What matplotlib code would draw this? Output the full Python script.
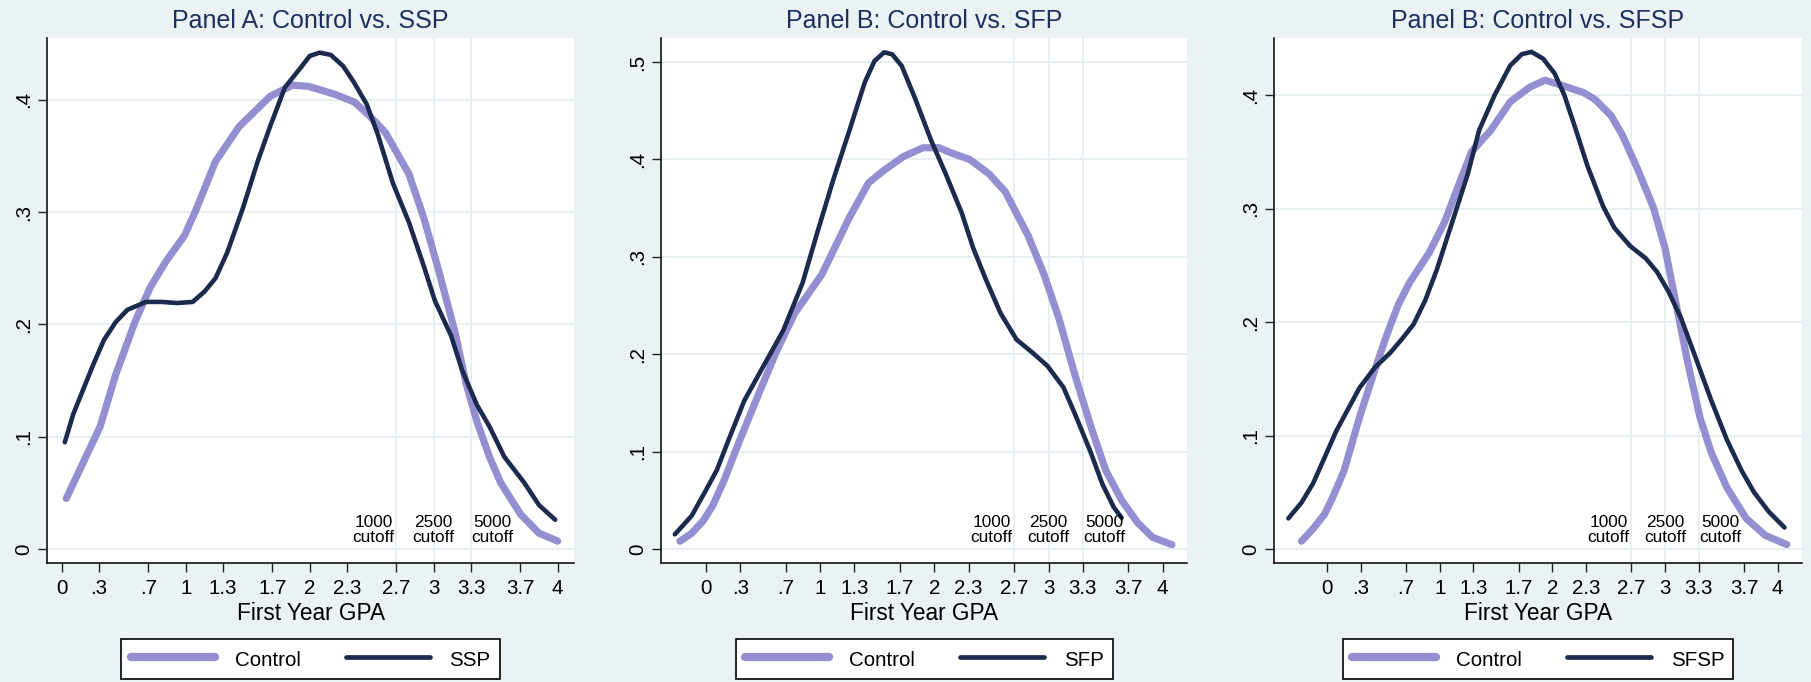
import matplotlib
matplotlib.use("Agg")
import matplotlib.pyplot as plt
from matplotlib.lines import Line2D

plt.rcParams['font.family'] = ['Liberation Sans', 'DejaVu Sans']

# ---------------- data ----------------
xtick_vals = [0, .3, .7, 1, 1.3, 1.7, 2, 2.3, 2.7, 3, 3.3, 3.7, 4]
xtick_labels = ["0", ".3", ".7", "1", "1.3", "1.7", "2", "2.3", "2.7", "3", "3.3", "3.7", "4"]
cutoffs = [2.7, 3.0, 3.3]
cutoff_labels = ["1000\ncutoff", "2500\ncutoff", "5000\ncutoff"]

titles = ["Panel A: Control vs. SSP", "Panel B: Control vs. SFP", "Panel B: Control vs. SFSP"]
treat_names = ["SSP", "SFP", "SFSP"]

# Panel A
ctrlA_x = [0.037, 0.31, 0.435, 0.59, 0.714, 0.84, 0.99, 1.087, 1.24, 1.43, 1.68, 1.86, 1.99, 2.2, 2.36, 2.48,
           2.61, 2.8, 2.92, 3.04, 3.17, 3.26, 3.35, 3.45, 3.54, 3.7, 3.85, 4.0]
ctrlA_y = [0.045, 0.109, 0.155, 0.202, 0.233, 0.256, 0.279, 0.303, 0.345, 0.376, 0.403, 0.413, 0.412, 0.405,
           0.398, 0.386, 0.371, 0.334, 0.295, 0.248, 0.194, 0.148, 0.113, 0.082, 0.059, 0.031, 0.014, 0.007]
trtA_x = [0.025, 0.093, 0.25, 0.34, 0.435, 0.53, 0.68, 0.81, 0.93, 1.056, 1.15, 1.24, 1.335, 1.46, 1.58, 1.68,
          1.8, 1.93, 2.0, 2.08, 2.17, 2.27, 2.36, 2.46, 2.55, 2.67, 2.8, 2.92, 3.01, 3.14, 3.23, 3.35, 3.45,
          3.57, 3.73, 3.85, 3.98]
trtA_y = [0.095, 0.12, 0.163, 0.186, 0.202, 0.213, 0.22, 0.22, 0.219, 0.22, 0.229, 0.241, 0.264, 0.303, 0.345,
          0.376, 0.411, 0.429, 0.439, 0.442, 0.44, 0.43, 0.415, 0.396, 0.369, 0.326, 0.291, 0.252, 0.221, 0.19,
          0.159, 0.128, 0.109, 0.082, 0.059, 0.039, 0.026]

# Panel B
ctrlB_x = [-0.228, -0.126, -0.024, 0.061, 0.164, 0.266, 0.436, 0.606, 0.777, 1.015, 1.254, 1.424, 1.56, 1.73,
           1.9, 2.04, 2.14, 2.31, 2.48, 2.62, 2.82, 2.96, 3.09, 3.23, 3.37, 3.5, 3.64, 3.78, 3.91, 4.08]
ctrlB_y = [0.008, 0.016, 0.029, 0.045, 0.072, 0.103, 0.152, 0.2, 0.242, 0.282, 0.34, 0.376, 0.389, 0.403,
           0.412, 0.412, 0.407, 0.4, 0.385, 0.367, 0.322, 0.282, 0.237, 0.179, 0.126, 0.081, 0.05, 0.027,
           0.012, 0.0045]
trtB_x = [-0.273, -0.126, -0.007, 0.095, 0.198, 0.334, 0.504, 0.675, 0.845, 0.98, 1.117, 1.254, 1.39, 1.475,
          1.56, 1.63, 1.714, 1.83, 1.97, 2.1, 2.24, 2.34, 2.45, 2.58, 2.72, 2.855, 2.99, 3.13, 3.23, 3.37,
          3.47, 3.57, 3.64]
trtB_y = [0.015, 0.034, 0.059, 0.081, 0.112, 0.152, 0.188, 0.224, 0.273, 0.327, 0.38, 0.429, 0.479, 0.501,
          0.51, 0.508, 0.496, 0.463, 0.42, 0.385, 0.345, 0.309, 0.277, 0.242, 0.215, 0.202, 0.188, 0.166,
          0.139, 0.099, 0.067, 0.043, 0.032]

# Panel C
ctrlC_x = [-0.226, -0.123, -0.02, 0.048, 0.151, 0.288, 0.425, 0.528, 0.631, 0.734, 0.906, 1.043, 1.146,
           1.283, 1.454, 1.626, 1.8, 1.935, 2.07, 2.28, 2.38, 2.52, 2.62, 2.76, 2.9, 3.0, 3.1, 3.2, 3.31,
           3.41, 3.55, 3.72, 3.89, 4.08]
ctrlC_y = [0.007, 0.018, 0.031, 0.045, 0.069, 0.116, 0.158, 0.188, 0.215, 0.235, 0.261, 0.288, 0.315,
           0.35, 0.369, 0.394, 0.407, 0.413, 0.409, 0.402, 0.396, 0.382, 0.365, 0.334, 0.3, 0.265, 0.215,
           0.165, 0.116, 0.085, 0.054, 0.027, 0.012, 0.004]
trtC_x = [-0.343, -0.226, -0.123, -0.02, 0.082, 0.185, 0.288, 0.425, 0.562, 0.665, 0.768, 0.871, 0.974,
          1.111, 1.248, 1.35, 1.488, 1.626, 1.729, 1.815, 1.918, 2.02, 2.106, 2.21, 2.31, 2.45, 2.55, 2.69,
          2.83, 2.93, 3.03, 3.14, 3.27, 3.41, 3.55, 3.68, 3.79, 3.92, 4.06]
trtC_y = [0.027, 0.041, 0.058, 0.081, 0.104, 0.123, 0.142, 0.16, 0.173, 0.185, 0.198, 0.219, 0.246, 0.288,
          0.33, 0.369, 0.4, 0.426, 0.436, 0.438, 0.432, 0.419, 0.4, 0.369, 0.338, 0.302, 0.283, 0.267, 0.256,
          0.244, 0.227, 0.204, 0.169, 0.131, 0.096, 0.069, 0.05, 0.033, 0.019]

yticksA = [0, .1, .2, .3, .4]
yticksB = [0, .1, .2, .3, .4, .5]
ytick_labelsA = ["0", ".1", ".2", ".3", ".4"]
ytick_labelsB = ["0", ".1", ".2", ".3", ".4", ".5"]

# ---------------- styling ----------------
W, H = 1811, 682
BG = '#eaf2f3'
GRID = '#e6eef1'
PURPLE = '#958fd1'
NAVY = '#1c2a4e'
TITLE_C = '#1e2f5e'

fig = plt.figure(figsize=(W / 100, H / 100), dpi=100, facecolor=BG)

panels = [
    dict(left=47, right=574.3, xlim=(-0.1185, 4.134), ylim=(-0.0125, 0.4553),
         cx=ctrlA_x, cy=ctrlA_y, tx=trtA_x, ty=trtA_y, yt=yticksA, ytl=ytick_labelsA),
    dict(left=661, right=1187.3, xlim=(-0.394, 4.215), ylim=(-0.0144, 0.525),
         cx=ctrlB_x, cy=ctrlB_y, tx=trtB_x, ty=trtB_y, yt=yticksB, ytl=ytick_labelsB),
    dict(left=1274.3, right=1801.7, xlim=(-0.468, 4.213), ylim=(-0.0123, 0.4505),
         cx=ctrlC_x, cy=ctrlC_y, tx=trtC_x, ty=trtC_y, yt=yticksA, ytl=ytick_labelsA),
]

top_px, bot_px = 37.7, 563.0
for i, p in enumerate(panels):
    ax = fig.add_axes([p['left'] / W, (H - bot_px) / H, (p['right'] - p['left']) / W, (bot_px - top_px) / H])
    ax.set_facecolor('white')
    ax.set_xlim(*p['xlim'])
    ax.set_ylim(*p['ylim'])
    for s in ['top', 'right']:
        ax.spines[s].set_visible(False)
    for s in ['left', 'bottom']:
        ax.spines[s].set_linewidth(1.1)
        ax.spines[s].set_color('black')

    # grid lines
    for yv in p['yt']:
        ax.axhline(yv, color=GRID, lw=1.3, zorder=0.5)
    for xv in cutoffs:
        ax.axvline(xv, color=GRID, lw=1.3, zorder=0.5)

    ax.plot(p['cx'], p['cy'], color=PURPLE, lw=5.2, solid_capstyle='round', solid_joinstyle='round', zorder=2)
    ax.plot(p['tx'], p['ty'], color=NAVY, lw=3.3, solid_capstyle='round', solid_joinstyle='round', zorder=3)

    ax.set_xticks(xtick_vals)
    ax.set_xticklabels(xtick_labels, fontsize=14.8)
    ax.set_yticks(p['yt'])
    ax.set_yticklabels(p['ytl'], fontsize=14.8, rotation=90, va='center')
    ax.tick_params(axis='both', direction='out', length=6.5, width=1.0, color='#222222')
    ax.tick_params(axis='x', pad=5)
    ax.tick_params(axis='y', pad=3.5)

    ax.set_xlabel("First Year GPA", fontsize=16.3, labelpad=2.8)
    ax.set_title(titles[i], fontsize=18, color=TITLE_C, pad=7)

    aligns = ['right', 'center', 'left']
    offs = [-0.016, 0.0, 0.0]
    for xv, lab, ha, o in zip(cutoffs, cutoff_labels, aligns, offs):
        ax.annotate(lab, xy=(xv + o, 0), xytext=(0, 3), textcoords='offset points',
                    ha=ha, va='bottom', fontsize=12.4, linespacing=0.95, multialignment='center', zorder=4)

    cxp = (p['left'] + p['right']) / 2
    handles = [Line2D([], [], color=PURPLE, lw=6, solid_capstyle='round'),
               Line2D([], [], color=NAVY, lw=3.4, solid_capstyle='round')]
    leg = fig.legend(handles, ["Control", treat_names[i]], loc='center',
                     bbox_to_anchor=(cxp / W, 1 - 659 / H), ncol=2, frameon=True, fancybox=False,
                     edgecolor='black', facecolor='white', framealpha=1, fontsize=14.8,
                     handlelength=4.1, handleheight=1.25, handletextpad=0.95, columnspacing=2.2,
                     borderpad=0.45, borderaxespad=0)
    leg.get_frame().set_linewidth(1.2)

fig.savefig("out.png", dpi=100, facecolor=BG)
